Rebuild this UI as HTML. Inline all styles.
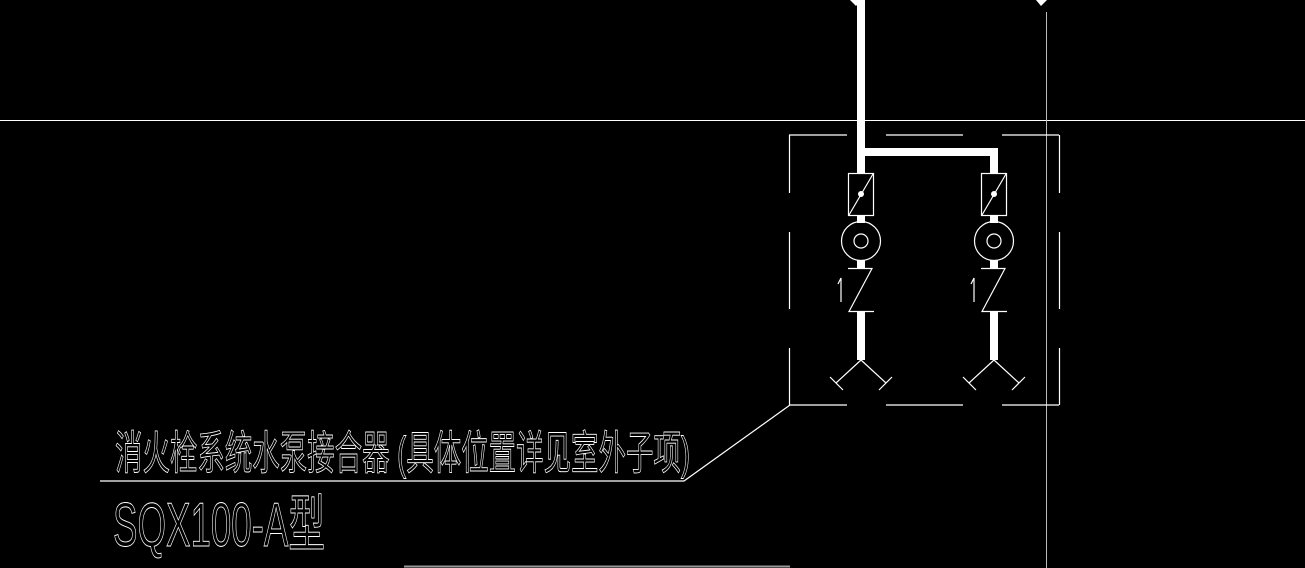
<!DOCTYPE html>
<html><head><meta charset="utf-8"><style>
html,body{margin:0;padding:0;background:#000;width:1305px;height:568px;overflow:hidden}
svg{display:block}
</style></head><body>
<svg width="1305" height="568" viewBox="0 0 1305 568" xmlns="http://www.w3.org/2000/svg">
<rect width="1305" height="568" fill="#000"/>
<line x1="0" y1="120.5" x2="1305" y2="120.5" stroke="#fff" stroke-width="1"/>
<line x1="1046.5" y1="12" x2="1046.5" y2="568" stroke="#bbb" stroke-width="1"/>
<line x1="404" y1="566.5" x2="790" y2="566.5" stroke="#999" stroke-width="2"/>
<polygon points="850,0 862,0 856,6" fill="#fff"/>
<polygon points="1036,0 1047,0 1041,6" fill="#fff"/>
<g stroke="#fff" stroke-width="1.2" fill="none">
<path d="M789,135H847M886,135H963M1002,135H1059"/>
<path d="M789,405H847M886,405H963M1002,405H1059"/>
<path d="M789.5,135V193M789.5,232V309M789.5,348V405"/>
<path d="M1059.5,135V193M1059.5,232V309M1059.5,348V405"/>
<path d="M790,405L684,481H100"/>
</g>
<g fill="#fff">
<rect x="857" y="0" width="8" height="152"/>
<rect x="857" y="148" width="141" height="8"/>
</g>
<g id="branch">
<rect x="857" y="152" width="8" height="21" fill="#fff"/>
<rect x="848.5" y="173.5" width="25" height="42" fill="#000" stroke="#fff" stroke-width="1.2"/>
<line x1="849" y1="215" x2="873" y2="174" stroke="#fff" stroke-width="1.2"/>
<circle cx="861" cy="194" r="3" fill="#fff"/>
<rect x="857" y="215" width="8" height="8" fill="#fff"/>
<circle cx="861" cy="241" r="19.5" fill="none" stroke="#fff" stroke-width="1.2"/>
<circle cx="861" cy="241" r="7" fill="none" stroke="#fff" stroke-width="1.2"/>
<rect x="857" y="260" width="8" height="8" fill="#fff"/>
<path d="M848,268.5H872L849,311.5H874" fill="none" stroke="#fff" stroke-width="1.2"/>
<path d="M838,284L841,278V302" fill="none" stroke="#fff" stroke-width="1.2"/>
<rect x="857" y="312" width="8" height="48" fill="#fff"/>
<path d="M861,360L836,383M861,360L886,383M830,377L843,390M892,377L879,390" fill="none" stroke="#fff" stroke-width="1.2"/>
</g>
<use href="#branch" transform="translate(133,0)"/>
<text x="0" y="0" transform="translate(115,469) scale(1,1.25)" textLength="575" lengthAdjust="spacingAndGlyphs" fill="none" stroke="#fff" stroke-width="0.7" font-family="'Liberation Sans','Noto Sans CJK SC',sans-serif" font-size="37">消火栓系统水泵接合器 (具体位置详见室外子项)</text>
<text x="0" y="0" transform="translate(113,546) scale(1,1.3)" textLength="212" lengthAdjust="spacingAndGlyphs" fill="none" stroke="#fff" stroke-width="0.7" font-family="'Liberation Sans','Noto Sans CJK SC',sans-serif" font-size="48">SQX100-A型</text>
</svg>
</body></html>
